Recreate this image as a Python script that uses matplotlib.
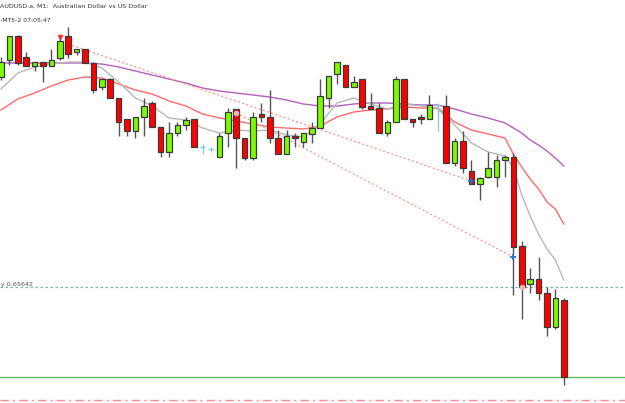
import numpy as np
import matplotlib.pyplot as plt

# AUDUSD.a M1 candles
opens = [0.65852, 0.65869, 0.65893, 0.65872, 0.65863, 0.65867, 0.65863, 0.65871, 0.65893, 0.65877,
         0.65880, 0.65866, 0.65842, 0.65850, 0.65831, 0.65810, 0.65798, 0.65812, 0.65826, 0.65802,
         0.65777, 0.65796, 0.65804, 0.65810, 0.65782, 0.65780, 0.65772, 0.65796, 0.65820, 0.65791,
         0.65771, 0.65815, 0.65812, 0.65791, 0.65775, 0.65793, 0.65787, 0.65795, 0.65801, 0.65831,
         0.65855, 0.65864, 0.65842, 0.65850, 0.65823, 0.65821, 0.65796, 0.65807, 0.65850, 0.65810,
         0.65812, 0.65810, 0.65824, 0.65823, 0.65766, 0.65788, 0.65758, 0.65745, 0.65752, 0.65752,
         0.65769, 0.65772, 0.65683, 0.65645, 0.65650, 0.65636, 0.65602, 0.65629]
highs = [0.65872, 0.65893, 0.65894, 0.65877, 0.65867, 0.65867, 0.65880, 0.65893, 0.65902, 0.65880,
         0.65880, 0.65867, 0.65850, 0.65851, 0.65831, 0.65810, 0.65812, 0.65831, 0.65828, 0.65802,
         0.65807, 0.65807, 0.65812, 0.65810, 0.65785, 0.65782, 0.65796, 0.65821, 0.65820, 0.65791,
         0.65817, 0.65826, 0.65839, 0.65799, 0.65799, 0.65796, 0.65796, 0.65807, 0.65850, 0.65853,
         0.65867, 0.65864, 0.65853, 0.65850, 0.65836, 0.65826, 0.65809, 0.65853, 0.65850, 0.65810,
         0.65815, 0.65834, 0.65826, 0.65834, 0.65791, 0.65798, 0.65769, 0.65752, 0.65777, 0.65774,
         0.65774, 0.65776, 0.65688, 0.65661, 0.65672, 0.65642, 0.65640, 0.65631]
lows = [0.65849, 0.65864, 0.65864, 0.65863, 0.65858, 0.65847, 0.65863, 0.65869, 0.65871, 0.65874,
        0.65866, 0.65836, 0.65839, 0.65831, 0.65793, 0.65793, 0.65791, 0.65793, 0.65802, 0.65772,
        0.65772, 0.65793, 0.65799, 0.65782, 0.65775, 0.65777, 0.65772, 0.65782, 0.65761, 0.65769,
        0.65769, 0.65807, 0.65786, 0.65775, 0.65775, 0.65782, 0.65782, 0.65786, 0.65801, 0.65821,
        0.65845, 0.65842, 0.65842, 0.65820, 0.65820, 0.65796, 0.65793, 0.65807, 0.65810, 0.65802,
        0.65805, 0.65810, 0.65798, 0.65766, 0.65763, 0.65756, 0.65745, 0.65729, 0.65751, 0.65742,
        0.65752, 0.65634, 0.65610, 0.65636, 0.65629, 0.65593, 0.65600, 0.65544]
closes = [0.65867, 0.65893, 0.65866, 0.65863, 0.65867, 0.65863, 0.65869, 0.65888, 0.65875, 0.65880,
          0.65866, 0.65839, 0.65850, 0.65831, 0.65807, 0.65798, 0.65812, 0.65823, 0.65802, 0.65777,
          0.65796, 0.65804, 0.65809, 0.65782, 0.65782, 0.65780, 0.65793, 0.65817, 0.65791, 0.65771,
          0.65812, 0.65812, 0.65791, 0.65775, 0.65793, 0.65791, 0.65796, 0.65801, 0.65833, 0.65853,
          0.65867, 0.65842, 0.65847, 0.65822, 0.65820, 0.65796, 0.65807, 0.65850, 0.65810, 0.65807,
          0.65810, 0.65824, 0.65824, 0.65766, 0.65788, 0.65761, 0.65745, 0.65751, 0.65761, 0.65769,
          0.65772, 0.65682, 0.65642, 0.65650, 0.65636, 0.65602, 0.65631, 0.65552]

# moving averages
ma_idx = [0, 2, 4, 6, 8, 10, 12, 14, 16, 18, 20, 22, 24, 26, 28, 30, 32, 34, 36, 38, 40,
          42, 44, 46, 48, 50, 52, 54, 56, 58, 60, 61, 62, 63, 64, 65, 66, 67]
ma_fast = [0.65840, 0.65856, 0.65862, 0.65865, 0.65867, 0.65867, 0.65861, 0.65847, 0.65831, 0.65823,
           0.65811, 0.65809, 0.65801, 0.65796, 0.65799, 0.65798, 0.65799, 0.65794, 0.65792, 0.65805,
           0.65826, 0.65831, 0.65825, 0.65820, 0.65825, 0.65823, 0.65820, 0.65804, 0.65786, 0.65777,
           0.65773, 0.65761, 0.65734, 0.65713, 0.65695, 0.65680, 0.65669, 0.65649]
ma_mid = [0.65819, 0.65830, 0.65836, 0.65843, 0.65849, 0.65852, 0.65851, 0.65845, 0.65839, 0.65835,
          0.65828, 0.65823, 0.65815, 0.65811, 0.65808, 0.65805, 0.65802, 0.65801, 0.65800, 0.65803,
          0.65812, 0.65817, 0.65819, 0.65820, 0.65822, 0.65821, 0.65821, 0.65807, 0.65799, 0.65795,
          0.65791, 0.65775, 0.65762, 0.65750, 0.65740, 0.65727, 0.65720, 0.65705]
ma_slow = [0.65866, 0.65866, 0.65866, 0.65866, 0.65866, 0.65866, 0.65865, 0.65862, 0.65858, 0.65854,
           0.65850, 0.65846, 0.65841, 0.65838, 0.65836, 0.65834, 0.65832, 0.65829, 0.65825, 0.65823,
           0.65823, 0.65825, 0.65826, 0.65826, 0.65825, 0.65824, 0.65824, 0.65820, 0.65815, 0.65811,
           0.65806, 0.65801, 0.65796, 0.65789, 0.65784, 0.65778, 0.65771, 0.65763]

# trade history lines (open -> close)
trade_open_idx = [8, 28]
trade_open_px = [0.65885, 0.65816]
trade_close_idx = [56, 61]
trade_close_px = [0.65748, 0.65672]

bid_line = 0.65552
level_line = 0.65642
stop_line = 0.65529

fig = plt.figure(figsize=(6.25, 4.03), dpi=100)
ax = fig.add_axes([0, 0, 1, 1])
ax.set_xlim(-0.12, 74.29)
ax.set_ylim(0.65526, 0.65929)
ax.axis('off')

x = np.arange(len(opens))
o = np.array(opens)
c = np.array(closes)
h = np.array(highs)
l = np.array(lows)
up = c > o
down = c < o
doji = c == o

# wicks
ax.vlines(x[~doji], l[~doji], h[~doji], color='#555555', lw=1.0, zorder=2)
# bodies
ax.bar(x[up], (c - o)[up], bottom=o[up], width=0.68, color='#7cfc00',
       edgecolor='#3a3a3a', lw=0.9, zorder=3)
ax.bar(x[down], (o - c)[down], bottom=c[down], width=0.68, color='#ff0000',
       edgecolor='#3a3a3a', lw=0.9, zorder=3)
# doji candles
ax.vlines(x[doji], l[doji], h[doji], color='#88d0d0', lw=1.0, zorder=3)
ax.hlines(o[doji], x[doji] - 0.3, x[doji] + 0.3, color='#88d0d0', lw=1.0, zorder=3)

# moving averages
ax.plot(ma_idx, ma_slow, color='#b55fc0', lw=1.0, zorder=1)
ax.plot(ma_idx, ma_mid, color='#ff6a6a', lw=1.0, zorder=1)
ax.plot(ma_idx, ma_fast, color='#b8b8b8', lw=1.0, zorder=1)

# trade lines + arrows
for i in range(len(trade_open_idx)):
    ax.plot([trade_open_idx[i], trade_close_idx[i]], [trade_open_px[i], trade_close_px[i]],
            color='#ff8c7c', lw=0.9, ls=(0, (1.5, 2)), zorder=1)
ax.plot(7, 0.65892, marker='v', color='#ff3030', ms=3, zorder=4)
ax.plot(28, 0.65816, marker='o', color='#ffb0b0', ms=3, zorder=4)
ax.plot(62, 0.65642, marker='o', color='#ffb0b0', ms=3, zorder=4)
ax.plot(trade_close_idx, trade_close_px, marker='+', color='#2070d0', ms=4, mew=1.2,
        ls='none', zorder=4)

# horizontal levels
ax.axhline(level_line, color='#70b8b0', lw=0.9, ls=(0, (2, 2)), zorder=0)
ax.axhline(bid_line, color='#60c060', lw=1.0, zorder=0)
ax.axhline(stop_line, color='#ff8c8c', lw=1.0, ls=(0, (6, 3, 1.5, 3)), zorder=0)

ax.text(0.0, 0.99, 'AUDUSD.a, M1:  Australian Dollar vs US Dollar', transform=ax.transAxes,
        fontsize=4.6, color='#333333', ha='left', va='top')
ax.text(0.0, 0.955, '-MT5-2 07:05:47', transform=ax.transAxes,
        fontsize=4.4, color='#333333', ha='left', va='top')
ax.text(-0.05, level_line, 'y 0.65642', fontsize=4.6, color='#555555', ha='left', va='bottom')

plt.savefig('out.png', dpi=100)
